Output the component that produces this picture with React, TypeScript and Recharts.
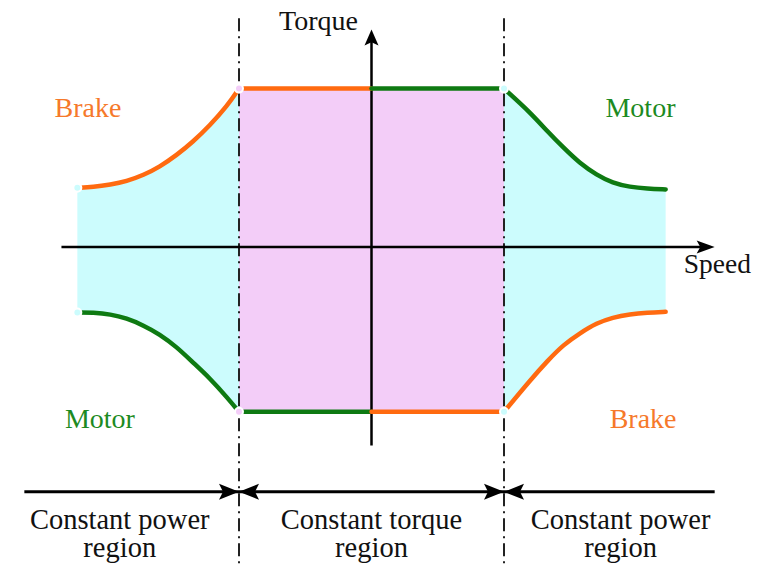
import React from 'react';
import { ComposedChart, Area, Line, XAxis, YAxis, ReferenceLine, ReferenceDot } from 'recharts';

// ---- data (per-unit speed / per-unit torque) ----
const leftSpeed = [-2.22, -2.1, -1.97, -1.85, -1.72, -1.6, -1.47, -1.35, -1.22, -1.09, -1.0];
const leftUpper = [0.37, 0.375, 0.39, 0.41, 0.45, 0.5, 0.575, 0.655, 0.76, 0.88, 0.99];
const leftLower = [-0.41, -0.41, -0.42, -0.445, -0.49, -0.545, -0.625, -0.72, -0.82, -0.94, -1.03];
const rightSpeed = [1.0, 1.2, 1.33, 1.45, 1.57, 1.7, 1.82, 1.95, 2.08, 2.22];
const rightUpper = [0.99, 0.84, 0.72, 0.62, 0.525, 0.45, 0.4, 0.375, 0.365, 0.36];
const rightLower = [-1.03, -0.83, -0.71, -0.61, -0.54, -0.475, -0.44, -0.42, -0.41, -0.405];
const baseSpeed = [-1.0, 1.0];
const ratedTorque = [0.99, -1.03];

const speedAxisRange = [-2.34, 2.59];
const torqueAxisRange = [-1.24, 1.36];
const dividerTop = 1.43;
const regionArrowLevel = -1.53;
const regionArrowRange = [-2.62, 2.59];

const ORANGE = '#ff6a10';
const GREEN = '#0e7a12';
const CYAN = '#ccfcfd';
const PINK = '#f3cdf8';
const FONT = '"Liberation Serif", "Times New Roman", serif';

const labels = [
  { text: 'Brake', s: -2.14, t: 0.81, color: '#f6792a', size: 28 },
  { text: 'Motor', s: 2.03, t: 0.81, color: '#1c8a22', size: 28 },
  { text: 'Motor', s: -2.05, t: -1.13, color: '#1c8a22', size: 28 },
  { text: 'Brake', s: 2.05, t: -1.13, color: '#f6792a', size: 28 },
  { text: 'Torque', s: -0.4, t: 1.355, color: '#111', size: 28 },
  { text: 'Speed', s: 2.61, t: -0.16, color: '#111', size: 27.5 },
  { text: 'Constant power', s: -1.9, t: -1.76, color: '#111', size: 28.5 },
  { text: 'region', s: -1.9, t: -1.935, color: '#111', size: 28.5 },
  { text: 'Constant torque', s: 0.0, t: -1.76, color: '#111', size: 28.5 },
  { text: 'region', s: 0.0, t: -1.935, color: '#111', size: 28.5 },
  { text: 'Constant power', s: 1.88, t: -1.76, color: '#111', size: 28.5 },
  { text: 'region', s: 1.88, t: -1.935, color: '#111', size: 28.5 },
];

// ---- derived tables ----
const leftBand = leftSpeed.map((s, i) => ({ s, band: [leftLower[i], leftUpper[i]] }));
const rightBand = rightSpeed.map((s, i) => ({ s, band: [rightLower[i], rightUpper[i]] }));
const midBand = baseSpeed.map((s) => ({ s, band: [ratedTorque[1], ratedTorque[0]] }));
const upLeftCurve = leftSpeed.map((s, i) => ({ s, v: leftUpper[i] }));
const lowLeftCurve = leftSpeed.map((s, i) => ({ s, v: leftLower[i] }));
const upRightCurve = rightSpeed.map((s, i) => ({ s, v: rightUpper[i] }));
const lowRightCurve = rightSpeed.map((s, i) => ({ s, v: rightLower[i] }));
const flat = (a: number, b: number, v: number) => [{ s: a, v }, { s: b, v }];

// ---- layout ----
const W = 767;
const H = 565;
const X0 = 371.5;
const XS = 132.5;
const Y0 = 247;
const YS = 160;
const xDomain = [-X0 / XS, (W - X0) / XS];
const yDomain = [-(H - Y0) / YS, Y0 / YS];

const arrowShape = (dir: string, len: number, half: number) => (props: any) => {
  const { cx, cy } = props;
  let pts = '';
  if (dir === 'right') pts = `${cx},${cy} ${cx - len},${cy - half} ${cx - len * 0.8},${cy} ${cx - len},${cy + half}`;
  if (dir === 'left') pts = `${cx},${cy} ${cx + len},${cy - half} ${cx + len * 0.8},${cy} ${cx + len},${cy + half}`;
  if (dir === 'up') pts = `${cx},${cy} ${cx - half},${cy + len} ${cx},${cy + len * 0.8} ${cx + half},${cy + len}`;
  return <polygon points={pts} fill="#000" />;
};

const textShape = (text: string, color: string, size: number) => (props: any) => (
  <text x={props.cx} y={props.cy} textAnchor="middle" fill={color} fontSize={size} fontFamily={FONT}>
    {text}
  </text>
);

const curveProps = {
  dataKey: 'v',
  strokeWidth: 4.5,
  strokeLinecap: 'round' as const,
  strokeLinejoin: 'round' as const,
  dot: false,
  activeDot: false,
  isAnimationActive: false,
};

export default function App() {
  return (
    <div style={{ position: 'absolute', left: 0, top: 0, width: W, height: H, background: '#fff' }}>
      <ComposedChart width={W} height={H} margin={{ top: 0, right: 0, bottom: 0, left: 0 }}>
        <XAxis type="number" dataKey="s" domain={xDomain} allowDataOverflow hide />
        <YAxis type="number" domain={yDomain} allowDataOverflow hide />

        <Area data={leftBand} dataKey="band" type="basis" fill={CYAN} fillOpacity={1} stroke="none" isAnimationActive={false} />
        <Area data={rightBand} dataKey="band" type="basis" fill={CYAN} fillOpacity={1} stroke="none" isAnimationActive={false} />
        <Area data={midBand} dataKey="band" type="linear" fill={PINK} fillOpacity={1} stroke="none" isAnimationActive={false} />

        <ReferenceLine segment={[{ x: baseSpeed[0], y: dividerTop }, { x: baseSpeed[0], y: yDomain[0] }]} stroke="#222" strokeWidth={2} strokeDasharray="13 5 2 5" />
        <ReferenceLine segment={[{ x: baseSpeed[1], y: dividerTop }, { x: baseSpeed[1], y: yDomain[0] }]} stroke="#222" strokeWidth={2} strokeDasharray="13 5 2 5" />

        <ReferenceLine segment={[{ x: speedAxisRange[0], y: 0 }, { x: speedAxisRange[1] - 0.08, y: 0 }]} stroke="#000" strokeWidth={2.5} />
        <ReferenceLine segment={[{ x: 0, y: torqueAxisRange[0] }, { x: 0, y: torqueAxisRange[1] - 0.06 }]} stroke="#000" strokeWidth={2.5} />
        <ReferenceDot x={speedAxisRange[1]} y={0} shape={arrowShape('right', 18, 6.5)} />
        <ReferenceDot x={0} y={torqueAxisRange[1]} shape={arrowShape('up', 16, 7)} />

        <Line {...curveProps} data={upLeftCurve} type="basis" stroke={ORANGE} />
        <Line {...curveProps} data={flat(baseSpeed[0], 0, ratedTorque[0])} type="linear" stroke={ORANGE} />
        <Line {...curveProps} data={flat(0, baseSpeed[1], ratedTorque[0])} type="linear" stroke={GREEN} />
        <Line {...curveProps} data={upRightCurve} type="basis" stroke={GREEN} />
        <Line {...curveProps} data={lowLeftCurve} type="basis" stroke={GREEN} />
        <Line {...curveProps} data={flat(baseSpeed[0], 0, ratedTorque[1])} type="linear" stroke={GREEN} />
        <Line {...curveProps} data={flat(0, baseSpeed[1], ratedTorque[1])} type="linear" stroke={ORANGE} />
        <Line {...curveProps} data={lowRightCurve} type="basis" stroke={ORANGE} />

        <ReferenceLine segment={[{ x: regionArrowRange[0], y: regionArrowLevel }, { x: regionArrowRange[1], y: regionArrowLevel }]} stroke="#000" strokeWidth={3} />
        <ReferenceDot x={baseSpeed[0]} y={regionArrowLevel} shape={arrowShape('right', 20, 8)} />
        <ReferenceDot x={baseSpeed[0]} y={regionArrowLevel} shape={arrowShape('left', 20, 8)} />
        <ReferenceDot x={baseSpeed[1]} y={regionArrowLevel} shape={arrowShape('right', 20, 8)} />
        <ReferenceDot x={baseSpeed[1]} y={regionArrowLevel} shape={arrowShape('left', 20, 8)} />

        {labels.map((l, i) => (
          <ReferenceDot key={i} x={l.s} y={l.t} shape={textShape(l.text, l.color, l.size)} />
        ))}
      </ComposedChart>
    </div>
  );
}
